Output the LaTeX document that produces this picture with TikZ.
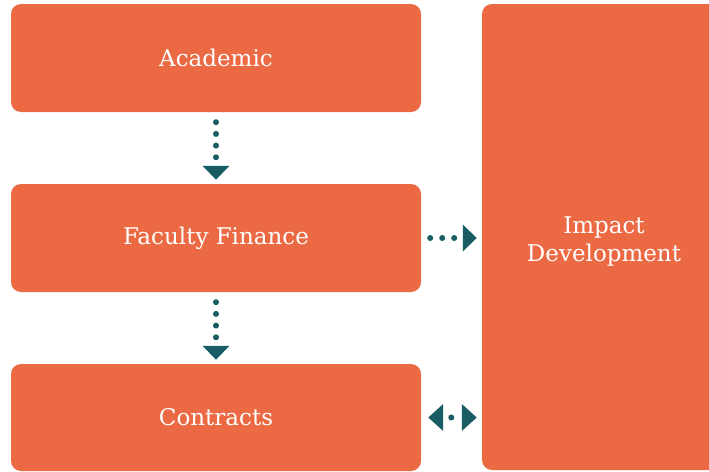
\documentclass[tikz,border=0pt]{standalone}
\usepackage{fontspec}
\setmainfont{DejaVu Serif}
\usetikzlibrary{arrows.meta}
\definecolor{boxorange}{HTML}{EC6A43}
\definecolor{darkteal}{HTML}{1A5C63}
\tikzset{
  boxfont/.style={text=white, font=\fontsize{23}{28}\selectfont, align=center},
  box/.style={fill=boxorange, draw=none, rounded corners=10pt, boxfont, inner sep=0pt},
  conn/.style={draw=darkteal, line width=6pt, line cap=round},
  tipA/.style={-{Triangle[width=26pt,length=14pt]}},
  tipB/.style={{Triangle[width=26pt,length=15pt]}-{Triangle[width=26pt,length=15pt]}}
}
\begin{document}
\begin{tikzpicture}[x=1pt,y=-1pt]
\useasboundingbox (0,0) rectangle (709,471);
\node[box, minimum width=410pt, minimum height=108pt] (acad) at (216,58) {\raisebox{-2pt}{Academic}};
\node[box, minimum width=410pt, minimum height=108pt] (fin) at (216,238) {\raisebox{-2pt}{Faculty Finance}};
\node[box, minimum width=410pt, minimum height=107pt] (con) at (216,417.5) {\raisebox{-2pt}{Contracts}};
\node[box, minimum width=244pt, minimum height=466pt,
  label={[boxfont, yshift=-5pt]center:{Impact\\Development}}] (imp) at (604,237) {};
\draw[conn, tipA, dash pattern=on 0pt off 11.7pt] ([yshift=-10pt]acad.south) -- ([yshift=4pt]fin.north);
\draw[conn, tipA, dash pattern=on 0pt off 11.7pt] ([yshift=-10pt]fin.south) -- ([yshift=4pt]con.north);
\draw[conn, tipA, dash pattern=on 0pt off 12pt] ([xshift=9pt]fin.east) -- ([xshift=-5pt]fin.east -| imp.west);
\draw[conn, tipB, dash pattern=on 0pt off 18pt, dash phase=9pt] ([xshift=7pt]con.east) -- ([xshift=-5pt]con.east -| imp.west);
\end{tikzpicture}
\end{document}
